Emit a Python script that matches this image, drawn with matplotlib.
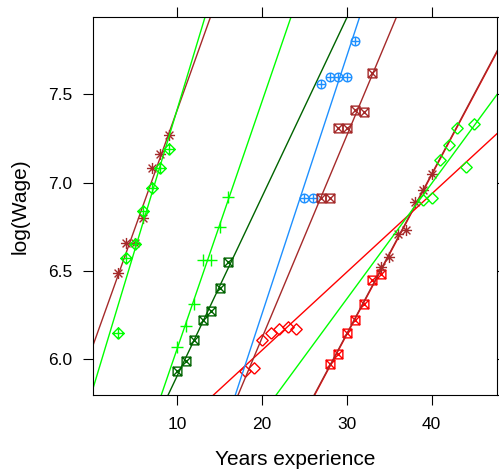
import numpy as np
import matplotlib
matplotlib.use("Agg")
import matplotlib.pyplot as plt
from matplotlib.path import Path

plt.rcParams['font.family'] = ['Liberation Sans', 'DejaVu Sans']

# ---- data (years of experience, log wage) per individual ----
years_1 = [3, 4, 5, 6, 7, 8, 9]
lwage_1 = [6.49, 6.66, 6.66, 6.80, 7.08, 7.16, 7.27]
years_2 = [3, 4, 5, 6, 7, 8, 9]
lwage_2 = [6.15, 6.57, 6.65, 6.84, 6.97, 7.08, 7.19]
years_3 = [10, 11, 12, 13, 14, 15, 16]
lwage_3 = [6.07, 6.19, 6.31, 6.56, 6.56, 6.75, 6.92]
years_4 = [10, 11, 12, 13, 14, 15, 16]
lwage_4 = [5.93, 5.99, 6.11, 6.22, 6.27, 6.40, 6.55]
years_5 = [18, 19, 20, 21, 22, 23, 24]
lwage_5 = [5.93, 5.95, 6.11, 6.15, 6.17, 6.18, 6.17]
years_6 = [25, 26, 27, 28, 29, 30, 31]
lwage_6 = [6.91, 6.91, 7.56, 7.60, 7.60, 7.60, 7.80]
years_7 = [27, 28, 29, 30, 31, 32, 33]
lwage_7 = [6.91, 6.91, 7.31, 7.31, 7.41, 7.40, 7.62]
years_8 = [28, 29, 30, 31, 32, 33, 34]
lwage_8 = [5.97, 6.03, 6.15, 6.22, 6.31, 6.45, 6.48]
years_9 = [34, 35, 36, 37, 38, 39, 40]
lwage_9 = [6.52, 6.58, 6.71, 6.73, 6.89, 6.96, 7.05]
years_10 = [39, 40, 41, 42, 43, 44, 45]
lwage_10 = [6.90, 6.91, 7.13, 7.21, 7.31, 7.09, 7.33]

x_ticks = [10, 20, 30, 40]
y_ticks = [6.0, 6.5, 7.0, 7.5]
x_label = "Years experience"
y_label = "log(Wage)"

# ---- marker shapes (R pch look-alikes) ----
M, L = Path.MOVETO, Path.LINETO
sq_x = Path([(-1, -1), (1, -1), (1, 1), (-1, 1), (-1, -1),
             (-1, -1), (1, 1), (-1, 1), (1, -1)],
            [M, L, L, L, L, M, L, M, L])
diamond = Path([(0, -1), (1, 0), (0, 1), (-1, 0), (0, -1)], [M, L, L, L, L])
diamond_plus = Path([(0, -1), (1, 0), (0, 1), (-1, 0), (0, -1),
                     (-1, 0), (1, 0), (0, -1), (0, 1)],
                    [M, L, L, L, L, M, L, M, L])
plus = Path([(-1, 0), (1, 0), (0, -1), (0, 1)], [M, L, M, L])
d = 0.7071
asterisk = Path([(-1, 0), (1, 0), (0, -1), (0, 1),
                 (-d, -d), (d, d), (-d, d), (d, -d)],
                [M, L, M, L, M, L, M, L])
circ = Path.unit_circle()
circle_plus = Path.make_compound_path(circ, plus)

BROWN = "#A52A2A"
GREEN = "#00FF00"
DGREEN = "#006400"
BLUE = "#1E90FF"
RED = "#FF0000"

groups = [
    (years_1, lwage_1, BROWN, asterisk, 8.0),
    (years_2, lwage_2, GREEN, diamond_plus, 8.2),
    (years_3, lwage_3, GREEN, plus, 8.6),
    (years_4, lwage_4, DGREEN, sq_x, 6.3),
    (years_5, lwage_5, RED, diamond, 8.2),
    (years_6, lwage_6, BLUE, circle_plus, 6.2),
    (years_7, lwage_7, BROWN, sq_x, 6.3),
    (years_8, lwage_8, RED, sq_x, 6.3),
    (years_9, lwage_9, BROWN, asterisk, 8.0),
    (years_10, lwage_10, GREEN, diamond, 8.2),
]

fig = plt.figure(figsize=(4.99, 4.69), dpi=100)
ax = fig.add_axes([93.3 / 499, 1 - 394.7 / 469, (497.5 - 93.3) / 499, (394.7 - 17.3) / 469])

xlim = (0.1, 47.76)
ylim = (5.798, 7.936)

for xs, ys, col, mk, ms in groups:
    xs = np.asarray(xs, float)
    ys = np.asarray(ys, float)
    ax.plot(xs, ys, linestyle="none", marker=mk, markersize=ms,
            markerfacecolor="none", markeredgecolor=col, markeredgewidth=1.0)
    b, a = np.polyfit(xs, ys, 1)
    xx = np.array(xlim)
    ax.plot(xx, a + b * xx, color=col, linewidth=1.0)

ax.set_xlim(*xlim)
ax.set_ylim(*ylim)
ax.set_xticks(x_ticks)
ax.set_yticks(y_ticks)
ax.set_yticklabels([f"{v:.1f}" for v in y_ticks])
ax.tick_params(direction="out", length=7.2, width=0.8, top=True, right=True,
               labeltop=False, labelright=False, labelsize=12.5)
ax.tick_params(axis="x", pad=9)
ax.tick_params(axis="y", pad=8)
for s in ax.spines.values():
    s.set_linewidth(0.8)
ax.set_xlabel(x_label, fontsize=15, labelpad=13)
ax.set_ylabel(y_label, fontsize=15, labelpad=13)

fig.savefig("out.png", dpi=100)
